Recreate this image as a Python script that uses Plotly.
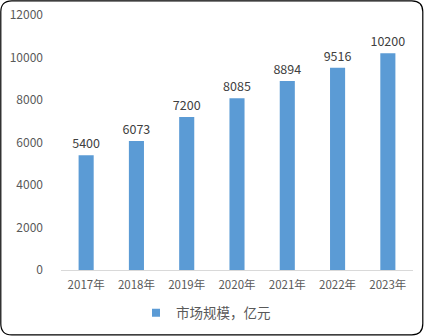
import plotly.graph_objects as go

years = ["2017年", "2018年", "2019年", "2020年", "2021年", "2022年", "2023年"]
values = [5400, 6073, 7200, 8085, 8894, 9516, 10200]
series_name = "市场规模，亿元"

W, H = 424, 336
ml, mr, mt, mb = 61, 11, 15, 66
pw, ph = W - ml - mr, H - mt - mb

def px(x):
    return (x - ml) / pw

def py(y):
    return (H - mb - y) / ph

font_family = "Noto Sans CJK SC, Noto Sans, sans-serif"
bar_color = "#5B9BD5"

fig = go.Figure()
fig.add_trace(go.Bar(
    x=years, y=values, name=series_name, showlegend=False,
    marker=dict(color=bar_color, line=dict(width=0)),
    text=[str(v) for v in values], textposition="outside",
    textfont=dict(size=12.5, color="#404040", family=font_family),
    constraintext="none",
    cliponaxis=False,
))
# legend proxy with small square
fig.add_trace(go.Scatter(
    x=[None], y=[None], mode="markers", name=series_name,
    marker=dict(symbol="square", size=8, color=bar_color),
))

# rounded border
r = 11
x0, x1, y0, y1 = 0.8, W - 1.2, 0.8, H - 1.2
path = (
    f"M {px(x0 + r)},{py(y0)} L {px(x1 - r)},{py(y0)} "
    f"Q {px(x1)},{py(y0)} {px(x1)},{py(y0 + r)} "
    f"L {px(x1)},{py(y1 - r)} Q {px(x1)},{py(y1)} {px(x1 - r)},{py(y1)} "
    f"L {px(x0 + r)},{py(y1)} Q {px(x0)},{py(y1)} {px(x0)},{py(y1 - r)} "
    f"L {px(x0)},{py(y0 + r)} Q {px(x0)},{py(y0)} {px(x0 + r)},{py(y0)} Z"
)

fig.update_layout(
    width=W, height=H,
    margin=dict(l=ml, r=mr, t=mt, b=mb, autoexpand=False),
    paper_bgcolor="white", plot_bgcolor="white",
    bargap=0.7,
    uniformtext=dict(mode=False),
    showlegend=True,
    legend=dict(orientation="h", x=px(206), xanchor="center", y=py(313), yanchor="middle",
                font=dict(size=13.5, color="#595959", family=font_family),
                itemwidth=30, bgcolor="rgba(0,0,0,0)"),
    xaxis=dict(showline=True, linecolor="#D9D9D9", linewidth=1, ticks="", automargin=False,
               tickfont=dict(size=11.5, color="#595959", family=font_family), showgrid=False,
               ticklabelstandoff=4),
    yaxis=dict(range=[0, 12000], dtick=2000, tickformat="d", showgrid=False, showline=False, zeroline=False,
               automargin=False,
               tickfont=dict(size=12, color="#595959", family=font_family), ticks="",
               ticklabelstandoff=17),
    shapes=[dict(type="path", xref="paper", yref="paper", path=path,
                 line=dict(color="black", width=1.2), fillcolor="rgba(0,0,0,0)", layer="above")],
)

fig.write_html("out.html")
